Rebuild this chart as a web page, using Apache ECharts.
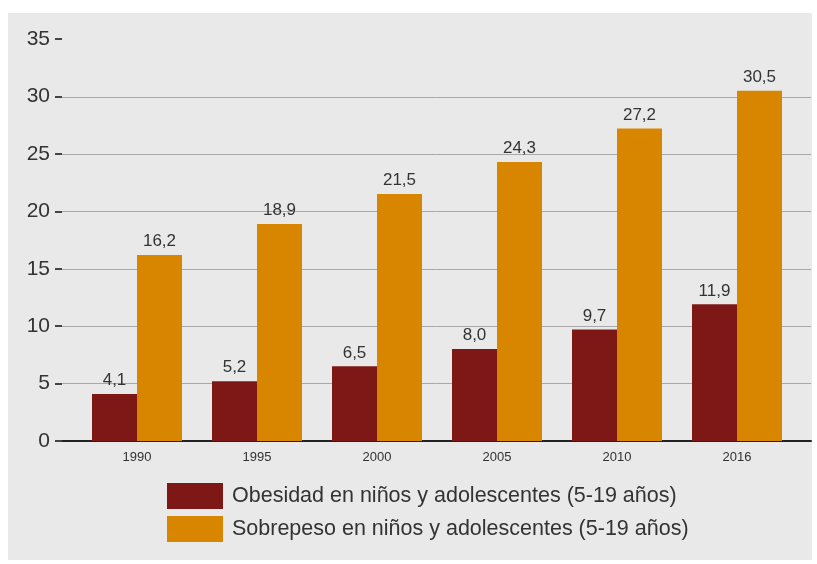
<!DOCTYPE html>
<html>
<head>
<meta charset="utf-8">
<script src="https://cdn.jsdelivr.net/npm/echarts@6/dist/echarts.min.js"></script>
<style>
  html, body { margin: 0; padding: 0; background: #fff; }
  #chart { width: 817px; height: 564px; }
</style>
</head>
<body>
<div id="chart"></div>
<script>
const years = ["1990", "1995", "2000", "2005", "2010", "2016"];
const obesidad = [4.1, 5.2, 6.5, 8.0, 9.7, 11.9];
const sobrepeso = [16.2, 18.9, 21.5, 24.3, 27.2, 30.5];
const seriesNames = [
  "Obesidad en niños y adolescentes (5-19 años)",
  "Sobrepeso en niños y adolescentes (5-19 años)",
];

const font = "Liberation Sans, Arial, sans-serif";
const colorRed = "#7e1816";
const colorOrange = "#d88600";

// etiqueta con coma decimal
function fmt(p) {
  return p.value.toFixed(1).replace(".", ",");
}

const chart = echarts.init(document.getElementById("chart"), null, { renderer: "canvas" });

chart.setOption({
  animation: false,
  textStyle: { fontFamily: font },
  graphic: [
    {
      type: "rect",
      z: -10,
      shape: { x: 8, y: 13, width: 804, height: 547 },
      style: { fill: "#e9e9e9" },
    },
  ],
  grid: [
    // líneas de fondo y línea base
    { left: 62, right: 6, top: 97, bottom: 123 },
    // barras
    { left: 77, right: 20, top: 39, bottom: 123 },
  ],
  legend: {
    orient: "vertical",
    left: 167,
    top: 483,
    padding: 0,
    itemWidth: 56,
    itemHeight: 26,
    itemGap: 7,
    icon: "rect",
    data: seriesNames,
    textStyle: { fontSize: 21.5, color: "#333", fontFamily: font, padding: [0, 0, 0, 4] },
  },
  xAxis: [
    {
      gridIndex: 0,
      type: "value",
      min: 0,
      max: 1,
      axisLine: { show: true, onZero: false, lineStyle: { color: "#222", width: 2 } },
      axisTick: { show: false },
      axisLabel: { show: false },
      splitLine: { show: false },
    },
    {
      gridIndex: 1,
      type: "category",
      data: years,
      axisLine: { show: false },
      axisTick: { show: false },
      axisLabel: { fontSize: 13, color: "#333", margin: 10, fontFamily: font },
    },
  ],
  yAxis: [
    {
      gridIndex: 0,
      type: "value",
      min: 0,
      max: 30,
      interval: 5,
      axisLine: { show: false },
      axisTick: { show: false },
      axisLabel: { show: false },
      splitLine: { show: true, lineStyle: { color: "#a8a8a8", width: 1 } },
    },
    {
      gridIndex: 1,
      type: "value",
      min: 0,
      max: 35,
      interval: 5,
      offset: 15,
      axisLine: { show: false },
      axisTick: { show: true, length: 7, lineStyle: { color: "#444", width: 2 } },
      axisLabel: { fontSize: 21, color: "#333", margin: 12, fontFamily: font },
      splitLine: { show: false },
    },
  ],
  series: [
    {
      name: seriesNames[0],
      type: "bar",
      xAxisIndex: 1,
      yAxisIndex: 1,
      data: obesidad,
      barWidth: 45,
      barGap: "0%",
      itemStyle: { color: colorRed },
      label: { show: true, position: "top", distance: 5, fontSize: 17, color: "#333", formatter: fmt },
    },
    {
      name: seriesNames[1],
      type: "bar",
      xAxisIndex: 1,
      yAxisIndex: 1,
      data: sobrepeso,
      barWidth: 45,
      barGap: "0%",
      itemStyle: { color: colorOrange },
      label: { show: true, position: "top", distance: 5, fontSize: 17, color: "#333", formatter: fmt },
    },
  ],
});
</script>
</body>
</html>
